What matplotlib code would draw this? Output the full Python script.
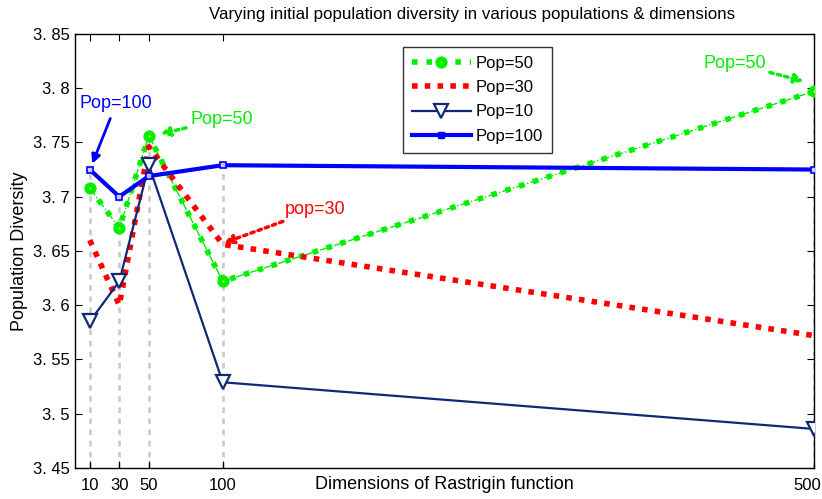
import matplotlib
matplotlib.use("Agg")
import matplotlib.pyplot as plt
import matplotlib.transforms as mtransforms
from matplotlib.lines import Line2D
import numpy as np

plt.rcParams['font.family'] = ['Liberation Sans', 'DejaVu Sans']

# Problem dimensions (x) and diversity per population size
dims = [10, 30, 50, 100, 500]
pop50 = [3.708, 3.671, 3.756, 3.622, 3.797]
pop30 = [3.660, 3.600, 3.746, 3.656, 3.572]
pop10 = [3.585, 3.622, 3.729, 3.529, 3.486]
pop100 = [3.725, 3.700, 3.719, 3.729, 3.725]

yticks = [3.45, 3.5, 3.55, 3.6, 3.65, 3.7, 3.75, 3.8, 3.85]
ytick_labels = ["3. 45", "3. 5", "3. 55", "3. 6", "3. 65", "3. 7", "3. 75", "3. 8", "3. 85"]

GREEN = '#00ee00'
NAVY = '#0d2a73'
circle_style = dict(marker='o', ms=5.2, mfc='yellow', mec=GREEN, mew=3.6)

fig = plt.figure(figsize=(8.22, 4.99), dpi=100)
ax = fig.add_axes([0.0912, 0.0621, 0.8990, 0.8700])
ax.set_xlim(0, 500)
ax.set_ylim(3.45, 3.85)

# grey drop lines under each dimension
tops = np.max(np.vstack([pop50, pop30, pop10, pop100]), axis=0)
ax.vlines(dims, 3.45, tops, colors='#cccccc', linestyles=(0, (2, 2)), lw=2, zorder=1)

# Pop=50: thick dotted over a thin dash-dot line
ax.plot(dims, pop50, color=GREEN, lw=1, ls='-.', zorder=2)
ax.plot(dims, pop50, color=GREEN, lw=4, ls=(0, (1, 1.6)), zorder=2)
ax.plot(dims, pop50, ls='none', zorder=5, **circle_style)

ax.plot(dims, pop30, color='red', lw=4, ls=(0, (1, 1.3)), zorder=3)

ax.plot(dims, pop10, color=NAVY, lw=1.6, marker='v', ms=10, mfc='white',
        mec=NAVY, mew=1.6, zorder=4)

ax.plot(dims, pop100, color='#0000ff', lw=3, marker='s', ms=5, mfc='#c8c8ff',
        mec='#0000ff', mew=1.2, zorder=6)

# legend proxies
handles = [
    Line2D([], [], color=GREEN, lw=4, ls=(0, (1, 1.6)), **circle_style),
    Line2D([], [], color='red', lw=4, ls=(0, (1, 1.3))),
    Line2D([], [], color=NAVY, lw=1.6, marker='v', ms=10, mfc='white',
           mec=NAVY, mew=1.6),
    Line2D([], [], color='#0000ff', lw=3, marker='s', ms=5, mfc='#0000ff', mec='#0000ff'),
]
leg = ax.legend(handles, ["Pop=50", "Pop=30", "Pop=10", "Pop=100"],
                loc='upper left', bbox_to_anchor=(0.444, 0.970), borderaxespad=0,
                fontsize=12, frameon=True, fancybox=False, edgecolor='black',
                handlelength=3.5, handletextpad=0.3, borderpad=0.55, labelspacing=0.55)
leg.get_frame().set_linewidth(1.0)

# annotations
ax.annotate("Pop=100", xy=(11, 3.728), xytext=(3.4, 3.786), color='#0000ff', fontsize=13,
            va='center',
            arrowprops=dict(arrowstyle='-|>', color='#0000ff', lw=2, shrinkA=3, shrinkB=2))
ax.annotate("Pop=50", xy=(55, 3.757), xytext=(78, 3.771), color=GREEN, fontsize=13,
            va='center',
            arrowprops=dict(arrowstyle='-|>', color=GREEN, lw=2.5, ls=(0, (1, 1.2)),
                            shrinkA=1, shrinkB=3))
ax.annotate("pop=30", xy=(100, 3.657), xytext=(142, 3.688), color='red', fontsize=13,
            va='center',
            arrowprops=dict(arrowstyle='-|>', color='red', lw=2.5, ls=(0, (1, 1.2)),
                            shrinkA=1, shrinkB=1))
ax.annotate("Pop=50", xy=(494, 3.806), xytext=(425, 3.823), color=GREEN, fontsize=13,
            va='center',
            arrowprops=dict(arrowstyle='-|>', color=GREEN, lw=2.5, ls=(0, (1, 1.2)),
                            shrinkA=1, shrinkB=1))

ax.set_xticks(dims)
ax.set_xticklabels([str(d) for d in dims], fontsize=12)
ax.set_yticks(yticks)
ax.set_yticklabels(ytick_labels, fontsize=12)
ax.tick_params(direction='in', top=True, right=True, length=5, width=0.8)
ax.tick_params(axis='x', pad=7)
for s in ax.spines.values():
    s.set_linewidth(1.0)

# keep the last x label inside the figure
last = ax.get_xticklabels()[-1]
last.set_horizontalalignment('right')
last.set_transform(last.get_transform() +
                   mtransforms.ScaledTranslation(7 / 100, 0, fig.dpi_scale_trans))

ax.set_xlabel("Dimensions of Rastrigin function", fontsize=13)
ax.xaxis.set_label_coords(0.5, -0.037)
ax.xaxis.label.set_va('center')
ax.set_ylabel("Population Diversity", fontsize=13, labelpad=4)
ax.set_title("Varying initial population diversity in various populations & dimensions",
             fontsize=12.2, pad=11, x=0.537)

fig.savefig("out.png", dpi=100)
